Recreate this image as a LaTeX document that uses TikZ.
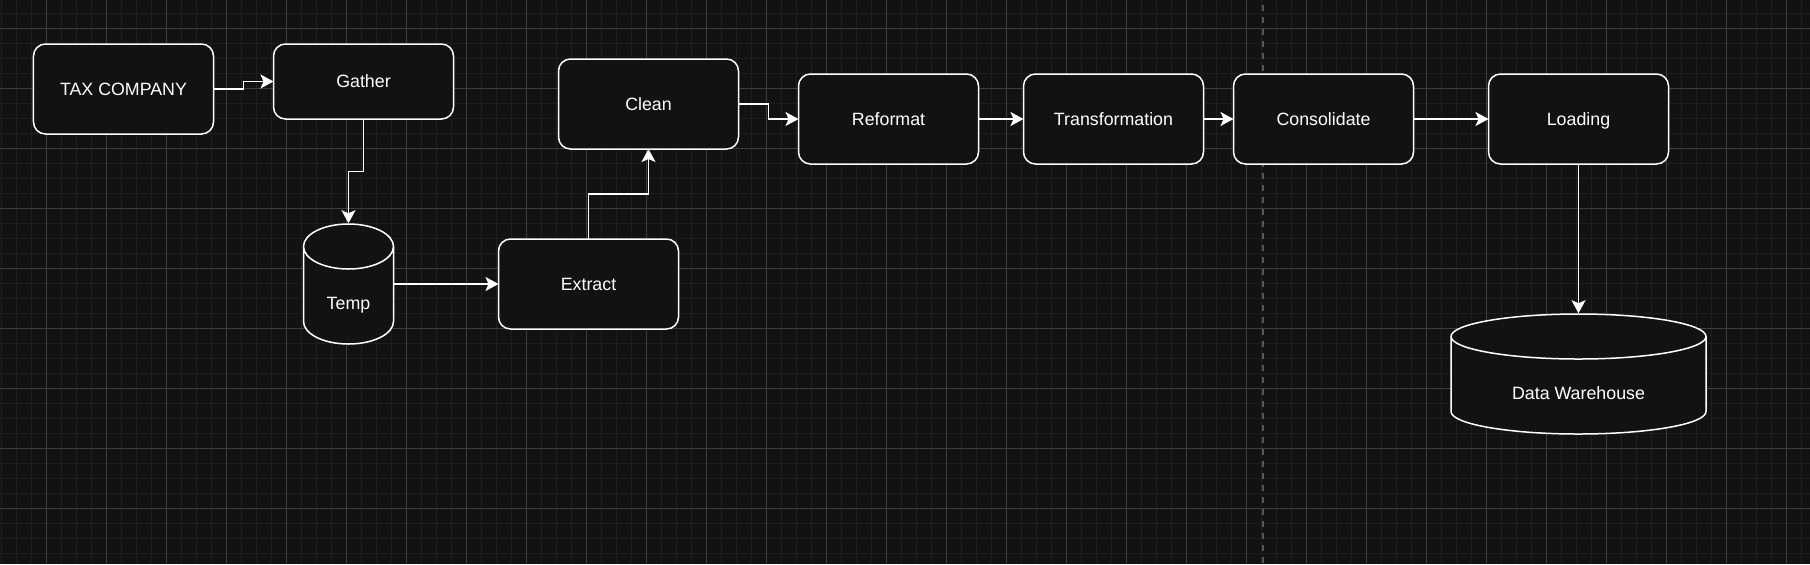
\documentclass[tikz,border=0pt]{standalone}
\usepackage{fontspec}
\setmainfont{Liberation Sans}
\usetikzlibrary{positioning}
\usetikzlibrary{arrows.meta}
\definecolor{canvas}{RGB}{18,18,18}
\definecolor{gridminor}{RGB}{30,30,30}
\definecolor{gridmajor}{RGB}{62,62,62}
\definecolor{divider}{RGB}{88,88,88}
\tikzstyle{stage} = [rectangle, rounded corners=6pt, draw=white, line width=0.75pt, fill=canvas, text=white, inner sep=0pt, outer sep=0pt, minimum width=90pt, minimum height=45pt, text height=6.4pt, text depth=0pt, font=\fontsize{8.9}{10.7}\selectfont]
\tikzstyle{flow} = [draw=white, line width=0.75pt, -{Stealth[length=6.5pt, width=7pt, inset=1.5pt]}]

\begin{document}
\begin{tikzpicture}[store/.style={rectangle, draw=none, inner sep=0pt, outer sep=0pt, minimum width=2*#1+0.8pt, minimum height=60.8pt,
    text=white, text height=31.8pt, text depth=6.4pt, font=\fontsize{8.9}{10.7}\selectfont,
    path picture={
      \draw[white, line width=0.75pt, fill=canvas]
        ([shift={(-#1,18.75pt)}]path picture bounding box.center) -- ++(0,-37.5pt)
        arc[start angle=180, end angle=360, x radius=#1, y radius=11.25pt] -- ++(0,37.5pt)
        arc[start angle=0, end angle=180, x radius=#1, y radius=11.25pt]
        arc[start angle=180, end angle=360, x radius=#1, y radius=11.25pt];
    }}]
%\draw [help lines] (-3,-5) grid (3,5);

% Canvas
\useasboundingbox (-61.75pt,44.5pt) rectangle (843.25pt,-237.5pt);
\fill[canvas] (-61.75pt,44.5pt) rectangle (843.25pt,-237.5pt);
\foreach \i in {0,...,120}
  \draw[gridminor, line width=0.75pt] ({-61pt+7.5pt*\i},44.5pt) -- ++(0,-282pt);
\foreach \j in {0,...,36}
  \draw[gridminor, line width=0.75pt] (-61.75pt,{37.85pt-7.5pt*\j}) -- ++(905pt,0);
\foreach \i in {0,...,29}
  \draw[gridmajor, line width=0.5pt] ({-38.5pt+30pt*\i},44.5pt) -- ++(0,-282pt);
\foreach \j in {0,...,8}
  \draw[gridmajor, line width=0.5pt] (-61.75pt,{30.35pt-30pt*\j}) -- ++(905pt,0);
\draw[divider, line width=0.85pt, dash pattern=on 3pt off 3pt] (569.75pt,42pt) -- (569.75pt,-237.5pt);

% Define nodes
\node[stage]                                                                   (tax)       {TAX COMPANY};
\node[stage, minimum height=37.5pt, right=30pt of tax.north east, anchor=north west] (gather) {Gather};
\node[store=22.5pt, below=52.1pt of gather, xshift=-7.5pt]                     (temp)      {Temp};
\node[stage, right=52.1pt of temp]                                             (extract)   {Extract};
\node[stage, right=52.5pt of gather.north east, anchor=north west, yshift=-7.5pt] (clean)  {Clean};
\node[stage, right=30pt of clean, yshift=-7.5pt]                               (reformat)  {Reformat};
\node[stage, right=22.5pt of reformat]                                         (transform) {Transformation};
\node[stage, right=15pt of transform]                                          (consol)    {Consolidate};
\node[stage, right=37.5pt of consol]                                           (loading)   {Loading};
\node[store=63.75pt, below=74.6pt of loading]                                  (dw)        {Data Warehouse};

% Edges
\draw[flow] (tax.east) -- ++(15pt,0) |- (gather.west);
\draw[flow] (gather.south) -- ++(0,-26.25pt) -| (temp.north);
\draw[flow] (extract.north) -- ++(0,22.5pt) -| (clean.south);
\draw[flow] (clean.east) -- ++(15pt,0) |- (reformat.west);
\foreach \a/\b in {temp/extract, reformat/transform, transform/consol, consol/loading, loading/dw}
  \draw[flow] (\a) -- (\b);
\end{tikzpicture}
\end{document}
